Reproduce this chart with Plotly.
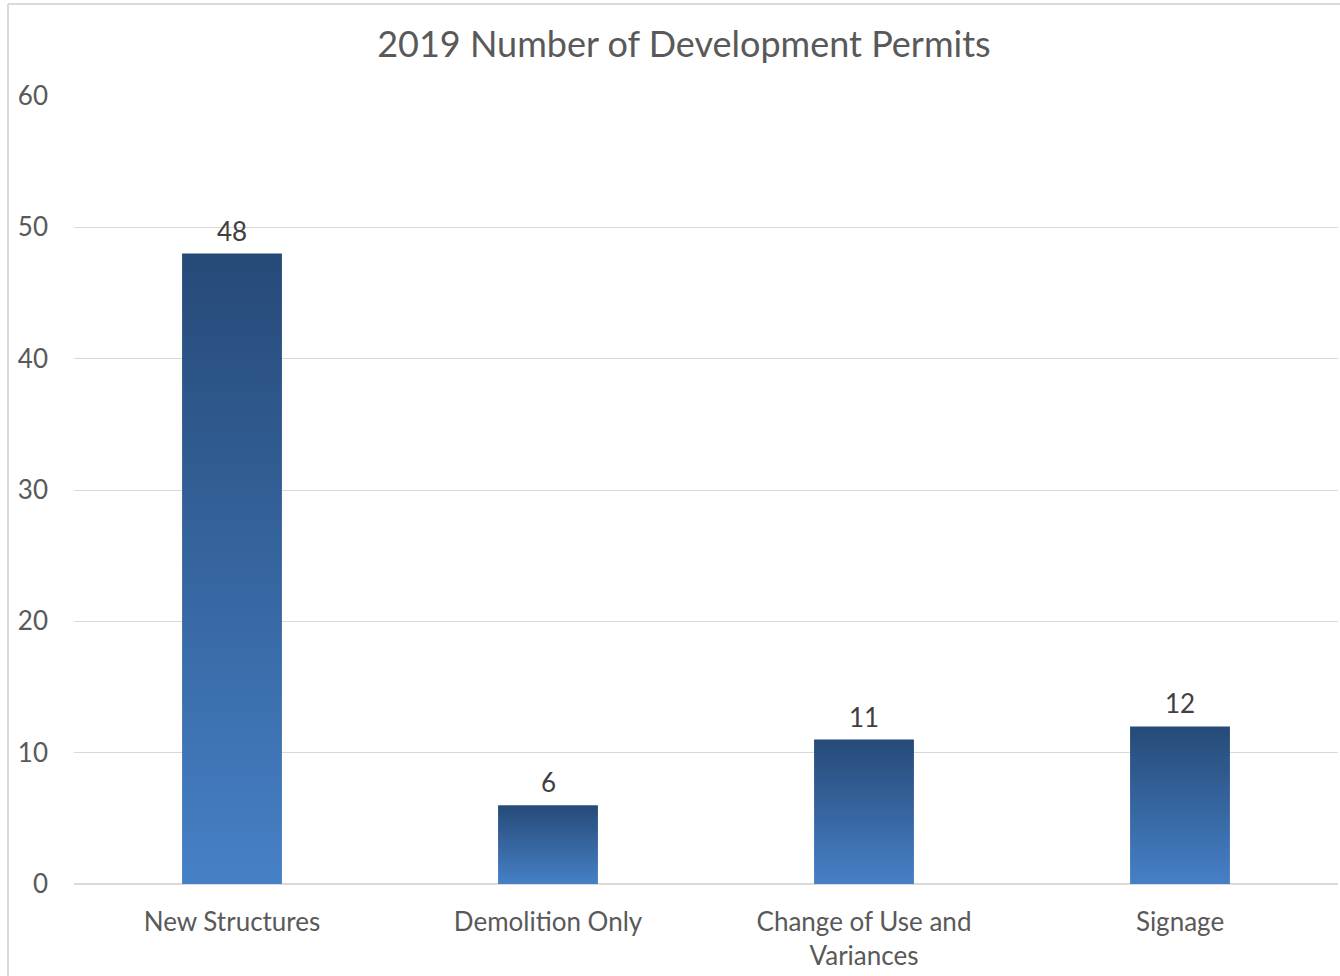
import plotly.graph_objects as go

# Permit counts by category
categories = ["New Structures", "Demolition Only", "Change of Use and<br>Variances", "Signage"]
permits = [48, 6, 11, 12]
y_ticks = [0, 10, 20, 30, 40, 50, 60]

BAR_WIDTH = 0.316
DARK = "#264a78"
LIGHT = "#4680c6"
TEXT = "#595959"
GRID = "#d9d9d9"
FONT = "Lato"

fig = go.Figure()

for i, v in enumerate(permits):
    x0, x1 = i - BAR_WIDTH / 2, i + BAR_WIDTH / 2
    fig.add_trace(go.Scatter(
        x=[x0, x1, x1, x0, x0],
        y=[0, 0, v, v, 0],
        mode="lines",
        line=dict(width=0),
        fill="toself",
        fillgradient=dict(
            type="vertical",
            colorscale=[[0, LIGHT], [1, DARK]],
        ),
        hoverinfo="skip",
        showlegend=False,
    ))
    fig.add_annotation(
        x=i, y=v, text=str(v), showarrow=False,
        yanchor="bottom", yshift=5,
        font=dict(family=FONT, size=26, color="#404040"),
    )

# outer chart border (left and top edges)
fig.add_shape(type="line", xref="paper", yref="paper",
              x0=-0.0522, x1=-0.0522, y0=1.1168, y1=-0.2,
              line=dict(color=GRID, width=2))
fig.add_shape(type="line", xref="paper", yref="paper",
              x0=-0.0522, x1=1.1, y0=1.1168, y1=1.1168,
              line=dict(color=GRID, width=2))

fig.update_layout(
    width=1340, height=976,
    margin=dict(l=74, r=2, t=96, b=92),
    paper_bgcolor="white",
    plot_bgcolor="white",
    title=dict(
        text="2019 Number of Development Permits",
        x=0.5104, xanchor="center", y=0.955, yanchor="middle",
        xref="container",
        font=dict(family=FONT, size=36, color=TEXT),
    ),
    xaxis=dict(
        range=[-0.5, 3.5],
        tickmode="array",
        tickvals=list(range(len(categories))),
        ticktext=categories,
        showgrid=False,
        zeroline=False,
        showline=False,
        ticks="",
        ticklabelstandoff=20,
        tickfont=dict(family=FONT, size=26, color=TEXT),
        fixedrange=True,
    ),
    yaxis=dict(
        range=[0, 60],
        tickmode="array",
        tickvals=y_ticks,
        showgrid=True,
        gridcolor=GRID,
        gridwidth=1,
        zeroline=True,
        zerolinecolor=GRID,
        zerolinewidth=2,
        showline=False,
        ticks="",
        ticklabelstandoff=25,
        tickfont=dict(family=FONT, size=26, color=TEXT),
        fixedrange=True,
    ),
    showlegend=False,
)

fig.write_html("out.html")
